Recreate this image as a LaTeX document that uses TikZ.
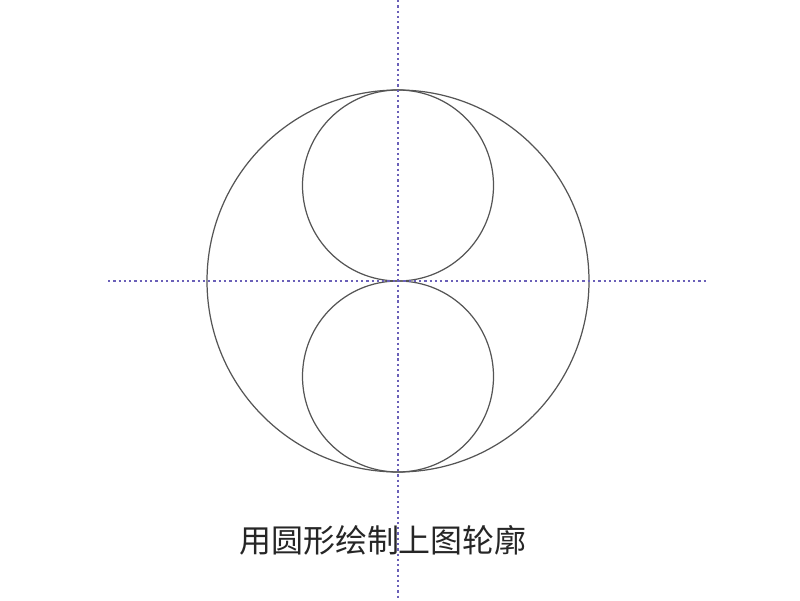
\documentclass[tikz,border=0pt]{standalone}
\usepackage{fontspec}
\newfontfamily\cjk{Noto Sans CJK SC}
\definecolor{axisblue}{HTML}{6A60B8}
\definecolor{rimgray}{HTML}{555555}
\tikzset{
  axis/.style={axisblue, line width=0.55pt, dash pattern=on 0.65pt off 0.85pt},
  rim/.style={rimgray, line width=0.35pt},
  caption/.style={font=\cjk\fontsize{9.1pt}{11pt}\selectfont, text=black!85}
}
\begin{document}
\begin{tikzpicture}
      \useasboundingbox (0,0) rectangle (8,6);
      \coordinate (o) at (3.98,3.19);
      \coordinate (up) at (3.98,4.145);
      \coordinate (dn) at (3.98,2.235);
      \coordinate (top) at (3.98,6);
      \coordinate (bot) at (3.98,0);
      \coordinate (left) at (1.08,3.19);
      \coordinate (right) at (7.07,3.19);
      \begin{scope}[rim]
        \draw (o) circle (1.91);
        \draw (up) circle (0.955);
        \draw (dn) circle (0.955);
      \end{scope}
      \begin{scope}[axis]
        \draw (top) to (bot);
        \draw (left) to (right);
      \end{scope}
      \node[caption] (title) at (3.83,0.60) {用圆形绘制上图轮廓};
    \end{tikzpicture}
\end{document}
